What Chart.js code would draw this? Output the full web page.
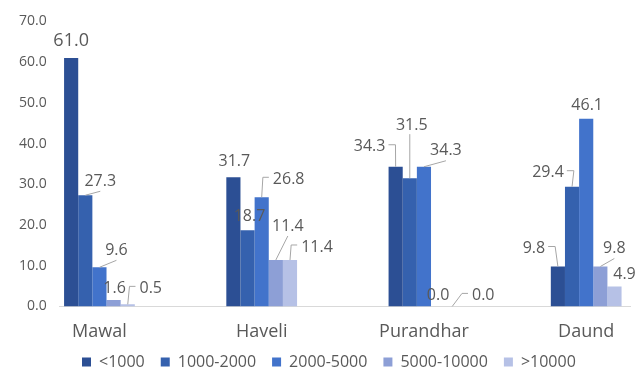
<!DOCTYPE html>
<html>
<head>
<meta charset="utf-8">
<script src="https://cdn.jsdelivr.net/npm/chart.js@4.4.1/dist/chart.umd.min.js"></script>
<style>
  html, body { margin: 0; padding: 0; background: #fff; }
  #wrap { width: 635px; height: 369px; }
</style>
</head>
<body>
<div id="wrap"><canvas id="myChart"></canvas></div>
<script>
const categories = ["Mawal", "Haveli", "Purandhar", "Daund"];
const seriesNames = ["<1000", "1000-2000", "2000-5000", "5000-10000", ">10000"];
const under1000 = [61.0, 31.7, 34.3, 9.8];
const from1000to2000 = [27.3, 18.7, 31.5, 29.4];
const from2000to5000 = [9.6, 26.8, 34.3, 46.1];
const from5000to10000 = [1.6, 11.4, 0.0, 9.8];
const over10000 = [0.5, 11.4, 0.0, 4.9];
const yTicks = [0, 10, 20, 30, 40, 50, 60, 70];

const seriesColors = ["#2c4f94", "#3561ae", "#4273cb", "#8d9fd6", "#b6c1e6"];
const textColor = "#595959";

// where each value label sits relative to the top of its bar: [dx, dy, leader, fontSize]
const labelPlacement = [
  [[0, -17, "", 18], [1, -16, ""], [-26, -20, "w"], [-24, -18, "w"]],
  [[15, -14, "d"], [2, -14, ""], [2, -53, "v"], [-24, -14, "w"]],
  [[17, -17, "d"], [27, -18, "e"], [22, -16, "d"], [1, -13, ""]],
  [[1, -11, ""], [12, -34, "d"], [0, -11, ""], [14, -18, "d"]],
  [[23, -16, "e"], [27, -13, "e"], [31, -11, "e"], [10, -12, ""]],
];

const allSeries = [under1000, from1000to2000, from2000to5000, from5000to10000, over10000];

const valueLabels = {
  id: "valueLabels",
  afterDatasetsDraw(chart) {
    const ctx = chart.ctx;
    ctx.save();
    chart.data.datasets.forEach((ds, si) => {
      const meta = chart.getDatasetMeta(si);
      meta.data.forEach((bar, ci) => {
        const p = labelPlacement[si][ci];
        const size = p[3] || 16;
        const txt = allSeries[si][ci].toFixed(1);
        ctx.font = size + 'px "Open Sans"';
        const w = ctx.measureText(txt).width;
        const lx = bar.x + p[0];
        const ly = bar.y + p[1];
        const left = lx - w / 2;
        const right = lx + w / 2;
        ctx.strokeStyle = "#a6a6a6";
        ctx.lineWidth = 1;
        ctx.beginPath();
        if (p[2] === "d") {
          ctx.moveTo(bar.x, bar.y);
          ctx.lineTo(lx, ly + 10);
        } else if (p[2] === "e") {
          ctx.moveTo(bar.x, bar.y);
          ctx.lineTo(left - 10, ly - 2);
          ctx.lineTo(left - 4, ly - 2);
        } else if (p[2] === "w") {
          ctx.moveTo(right + 3, ly - 2);
          ctx.lineTo(right + 10, ly - 2);
          ctx.lineTo(bar.x, bar.y);
        } else if (p[2] === "v") {
          ctx.moveTo(bar.x, bar.y);
          ctx.lineTo(bar.x, ly + 9);
        }
        ctx.stroke();
        ctx.fillStyle = textColor;
        ctx.textAlign = "center";
        ctx.textBaseline = "middle";
        ctx.fillText(txt, lx, ly);
      });
    });
    ctx.restore();
  }
};

// the legend row in the source starts at x=82 and is centred on y=362
const legendSpot = {
  id: "legendSpot",
  afterLayout(chart) {
    const lg = chart.legend;
    const pad = lg.options.labels.padding;
    const w = lg.right - lg.left;
    const h = lg.bottom - lg.top;
    lg.left = 82 - pad;
    lg.right = lg.left + w;
    lg.top = 362 - pad - lg.options.labels.font.size / 2;
    lg.bottom = lg.top + h;
  }
};

const ctx = document.getElementById("myChart").getContext("2d");
const chart = new Chart(ctx, {
  type: "bar",
  data: {
    datasets: allSeries.map((values, i) => ({
      label: seriesNames[i],
      data: values.map((v, j) => ({ x: j, y: v })),
      backgroundColor: seriesColors[i],
      borderWidth: 0,
      categoryPercentage: 0.436,
      barPercentage: 1,
    })),
  },
  plugins: [valueLabels, legendSpot],
  options: {
    responsive: true,
    maintainAspectRatio: false,
    animation: false,
    layout: { padding: { left: 6, right: 5, top: 2, bottom: -31 } },
    plugins: {
      tooltip: { enabled: false },
      legend: {
        position: "bottom",
        align: "start",
        labels: {
          boxWidth: 9,
          boxHeight: 9,
          padding: 16,
          color: textColor,
          font: { family: "Open Sans", size: 16 },
        },
      },
    },
    scales: {
      x: {
        type: "linear",
        offset: false,
        min: -0.245,
        max: 3.27,
        grid: { display: false, offset: false, drawTicks: false },
        border: { display: true, color: "#d9d9d9", width: 1 },
        ticks: {
          stepSize: 1,
          includeBounds: false,
          padding: 15,
          color: textColor,
          font: { family: "Open Sans", size: 18 },
          callback: (v) => categories[v] || "",
        },
      },
      y: {
        min: yTicks[0],
        max: yTicks[yTicks.length - 1],
        grid: { display: false, drawTicks: false },
        border: { display: false },
        afterBuildTicks: (axis) => {
          axis.ticks = yTicks.map((v) => ({ value: v }));
        },
        ticks: {
          padding: 13,
          color: textColor,
          font: { family: "Open Sans", size: 14 },
          callback: (v) => Number(v).toFixed(1),
        },
      },
    },
  },
});
</script>
</body>
</html>
